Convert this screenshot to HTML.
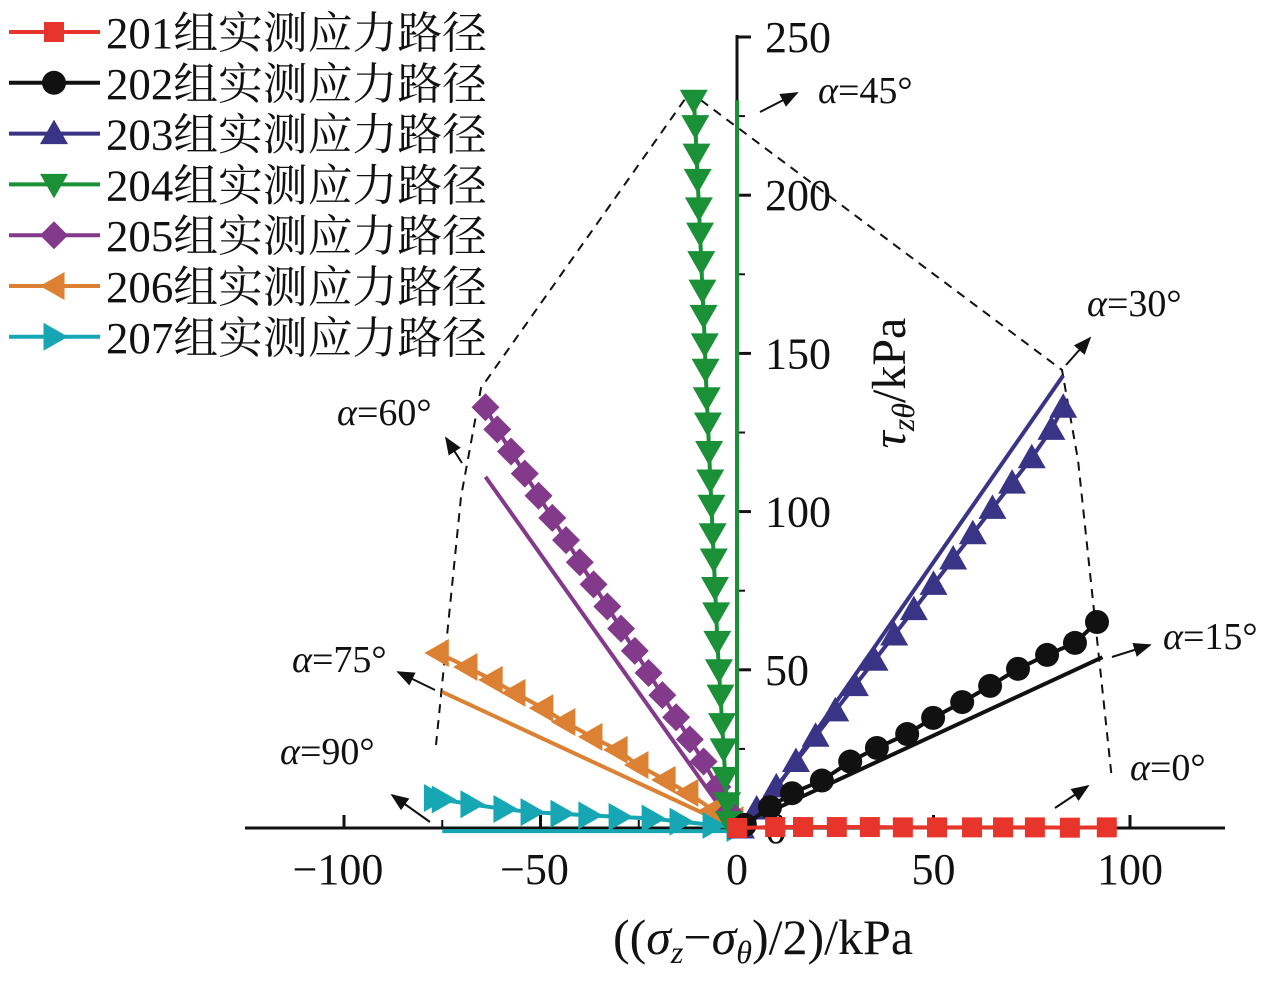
<!DOCTYPE html>
<html><head><meta charset="utf-8"><style>
html,body{margin:0;padding:0;background:#fff;}
svg text{font-family:"Liberation Serif","Noto Serif CJK SC",serif;fill:#111;}
</style></head><body>
<svg id="chart" width="1283" height="987" viewBox="0 0 1283 987" xmlns="http://www.w3.org/2000/svg">
<defs><marker id="ah" viewBox="0 0 10 10" refX="9" refY="5" markerWidth="9" markerHeight="9" orient="auto"><path d="M0,1 L10,5 L0,9 z" fill="#111"/></marker></defs>
<g id="plot"></g>
</svg>
<script>
const xTicks=[-100,-50,0,50,100];
const yTicks=[0,50,100,150,200,250];
const s201x=[0,9.7,16.8,25.4,33.8,42.2,50.9,59.8,67.7,75.8,84.7,94.1];
const s201y=[0,0.3,0.3,0.3,0.3,0.2,0.2,0.2,0.2,0.2,0.1,0.2];
const s202x=[2,8.4,14,21.6,28.8,35.6,43.3,49.9,57.3,64.4,71.5,78.9,86,91.6];
const s202y=[1,6.6,11,15,21,25.3,29.7,34.8,39.8,44.9,50.3,54.7,58.5,65.1];
const s203x=[1,5,10,15,20,25,30,35,40,45,50,55,60,65,70,75,80,83];
const s203y=[0,6,13,21,29,37,45,53,61,69,77,85,93,101,109,117,126,133];
const s204x=[-11,-10.6,-10.3,-10,-9.7,-9.4,-9.1,-8.8,-8.5,-8.2,-8,-7.7,-7.4,-7.1,-6.8,-6.5,-6.2,-5.9,-5.6,-5.3,-5,-4.6,-4.2,-3.8,-3.4,-3,-2.5,-2];
const s204y=[230,222,213,205,196,188,179,170,162,153,145,136,128,119,110,102,93,85,76,68,59,50,42,33,25,16,8,2];
const s205x=[-64,-61,-57.5,-54,-50.5,-47,-43.5,-40,-36.5,-33,-29.5,-26,-22.5,-19,-15.5,-12,-8.5,-5,-2];
const s205y=[133,126,119,112,105,98,91,84,77,70,63,56,49,42,35,28,21,13,5];
const s206x=[-76,-68.7,-62.3,-56.5,-49.4,-43.8,-36.9,-30.5,-25.2,-18.3,-12.5,-6.1,-1];
const s206y=[55.3,50.9,46.8,42.7,37.9,33.5,28.8,24.7,19.9,15.2,11.1,5.7,2.5];
const s207x=[-77,-75,-67.7,-59.3,-52.4,-44.8,-37.7,-30,-21.6,-14.5,-6.1,0];
const s207y=[9.5,9,7.5,6,5,4.5,4,3.5,3,2,1,0];
const theoX=[[8,93],[3,83],[0,0],[-0.5,-64],[-0.5,-75],[0,-75]];
const theoY=[[5,54],[0,143],[0,230],[0,111],[0,43],[-1,-1]];
const names=["201组实测应力路径","202组实测应力路径","203组实测应力路径","204组实测应力路径","205组实测应力路径","206组实测应力路径","207组实测应力路径"];
const colors=["#e8352b","#111111","#3a3487","#1a9037","#833a8a","#dc8133","#17a7b4"];
const shapes=["square","circle","up","down","diamond","left","right"];

const X=v=>737+v*3.93, Y=v=>828-v*3.164;
const NS="http://www.w3.org/2000/svg";
const plot=document.getElementById('plot');
function mk(tag,attrs,parent){const e=document.createElementNS(NS,tag);for(const k in attrs)e.setAttribute(k,attrs[k]);(parent||plot).appendChild(e);return e;}
function marker(shape,cx,cy,c,p){let e;
 if(shape==="square")e=mk('rect',{x:cx-10,y:cy-10,width:20,height:20,fill:c},p);
 else if(shape==="circle")e=mk('circle',{cx:cx,cy:cy,r:12,fill:c},p);
 else{let pts;const r=14;
  if(shape==="up")pts=[[0,-r],[r,r*0.75],[-r,r*0.75]];
  if(shape==="down")pts=[[0,r],[r,-r*0.75],[-r,-r*0.75]];
  if(shape==="left")pts=[[-r,0],[r*0.75,-r],[r*0.75,r]];
  if(shape==="right")pts=[[r,0],[-r*0.75,-r],[-r*0.75,r]];
  if(shape==="diamond")pts=[[0,-14],[14,0],[0,14],[-14,0]];
  e=mk('polygon',{points:pts.map(q=>(cx+q[0])+','+(cy+q[1])).join(' '),fill:c},p);}
 
 
 return e;}

let ax=mk('line',{x1:245,y1:828,x2:1225,y2:828,stroke:'#111','stroke-width':3});


let ay=mk('line',{x1:737,y1:828,x2:737,y2:35,stroke:'#111','stroke-width':3});


xTicks.forEach(t=>{mk('line',{x1:X(t),y1:828,x2:X(t),y2:815,stroke:'#111','stroke-width':3});
 const tx=mk('text',{x:X(t)-(t<0?6:0),y:884,'font-size':44,'text-anchor':'middle'});tx.textContent=(t<0?'\u2212'+(-t):String(t));
 
 });
yTicks.forEach(t=>{mk('line',{x1:737,y1:Y(t),x2:751,y2:Y(t),stroke:'#111','stroke-width':3});
 const tx=mk('text',{x:765,y:Y(t)+15,'font-size':44});tx.textContent=String(t);
 
 });
[-75,-25,25,75].forEach(t=>mk('line',{x1:X(t),y1:828,x2:X(t),y2:820,stroke:'#111','stroke-width':2}));
[25,75,125,175,225].forEach(t=>mk('line',{x1:737,y1:Y(t),x2:745,y2:Y(t),stroke:'#111','stroke-width':2}));

let env=mk('polyline',{points:'436,745 461,497 481,388 690,92 1062,370 1078,460 1112,780',fill:'none',stroke:'#111','stroke-width':2,'stroke-dasharray':'9,7'});



const theoColors=[colors[1],colors[2],colors[3],colors[4],colors[5],colors[6]];
theoX.forEach((xs,i)=>{const l=mk('line',{x1:X(xs[0]),y1:Y(theoY[i][0]),x2:X(xs[1]),y2:Y(theoY[i][1]),stroke:theoColors[i],'stroke-width':4});
 
 });

const SX=[s201x,s202x,s203x,s204x,s205x,s206x,s207x], SY=[s201y,s202y,s203y,s204y,s205y,s206y,s207y];
const order=[6,5,4,3,2,1,0];
order.forEach(i=>{const g=mk('g',{});
 
 
 mk('polyline',{points:SX[i].map((v,k)=>X(v)+','+Y(SY[i][k])).join(' '),fill:'none',stroke:colors[i],'stroke-width':4},g);
 SX[i].forEach((v,k)=>marker(shapes[i],X(v),Y(SY[i][k]),colors[i],g));});

const ann=[["α=45°",818,103,760,112,797,93],["α=30°",1087,316,1066,365,1090,338],["α=60°",337,425,462,463,446,438],["α=75°",292,672,435,690,398,672],["α=90°",280,764,430,822,392,795],["α=15°",1163,649,1112,657,1150,645],["α=0°",1130,780,1055,808,1088,786]];
ann.forEach(a=>{const t=mk('text',{x:a[1],y:a[2],'font-size':38});
 t.innerHTML='<tspan font-style="italic">α</tspan>'+a[0].slice(1);
 
 
 const l=mk('line',{x1:a[3],y1:a[4],x2:a[5],y2:a[6],stroke:'#111','stroke-width':2,'marker-end':'url(#ah)'});
 
 });

let xt=mk('text',{x:763,y:954,'font-size':50,'text-anchor':'middle'});
xt.innerHTML='((<tspan font-style="italic">σ</tspan><tspan font-style="italic" font-size="32" dy="9">z</tspan><tspan dy="-9">−</tspan><tspan font-style="italic">σ</tspan><tspan font-style="italic" font-size="32" dy="9">θ</tspan><tspan dy="-9">)/2)/kPa</tspan>';


let yt=mk('text',{x:0,y:0,'font-size':48,'text-anchor':'middle',transform:'translate(905,383) rotate(-90)'});
yt.innerHTML='<tspan font-style="italic">τ</tspan><tspan font-style="italic" font-size="32" dy="9">zθ</tspan><tspan dy="-9">/kPa</tspan>';



const lg=mk('g',{});


names.forEach((n,i)=>{const y=32+i*50.8;const e=mk('g',{},lg);
 
 
 mk('line',{x1:9,y1:y,x2:100,y2:y,stroke:colors[i],'stroke-width':4},e);
 marker(shapes[i],54,y,colors[i],e);
 const t=mk('text',{x:106,y:y+16,'font-size':44,textLength:381,lengthAdjust:'spacingAndGlyphs'},e);t.textContent=n;});
</script>
</body></html>
